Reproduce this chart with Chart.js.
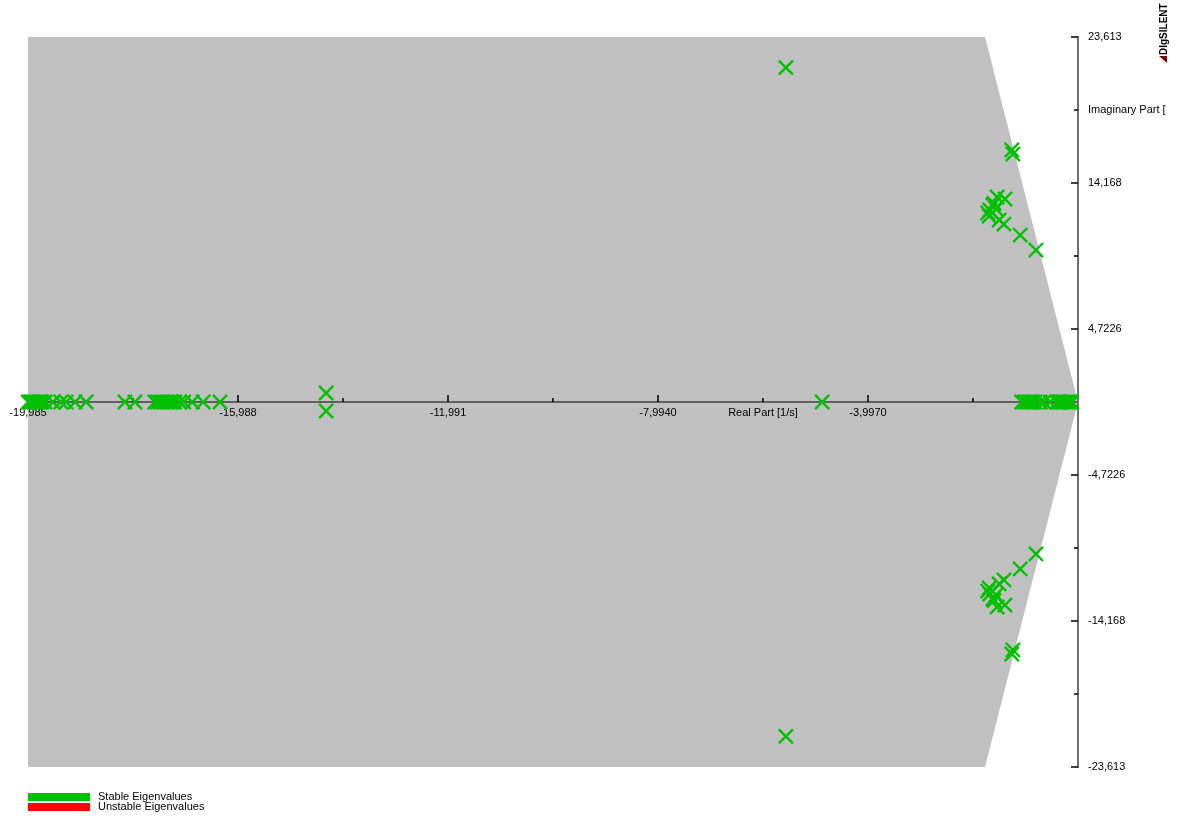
<!DOCTYPE html>
<html>
<head>
<meta charset="utf-8">
<title>Eigenvalue Plot</title>
<script src="https://cdn.jsdelivr.net/npm/chart.js@4.4.1/dist/chart.umd.min.js"></script>
<style>
  html, body { margin: 0; padding: 0; background: #fff; }
  #wrap { width: 1180px; height: 816px; }
</style>
</head>
<body>
<div id="wrap"><canvas id="eigenChart" width="1180" height="816"></canvas></div>
<script>
// Eigenvalues: real part [1/s] and imaginary part
const eigRe = [
  -19.98, -19.94, -19.91, -19.87, -19.83, -19.79, -19.76, -19.72, -19.66, -19.51,
  -19.36, -19.26, -19.09, -18.88, -18.14, -17.95, -17.57, -17.52, -17.47, -17.42,
  -17.38, -17.33, -17.28, -17.23, -17.19, -17.10, -17.02, -16.86, -16.65, -16.33,
  -4.87, -1.07, -1.02, -0.97, -0.93, -0.90, -0.86, -0.82, -0.72, -0.65,
  -0.53, -0.40, -0.37, -0.34, -0.31, -0.27, -0.23, -0.19, -0.15, -0.12,
  -14.31, -5.56, -1.26, -1.24, -1.54, -1.39, -1.62, -1.56, -1.68, -1.72, -1.69, -1.60, -1.50, -1.41, -1.10, -0.80,
  -14.31, -5.56, -1.26, -1.24, -1.54, -1.39, -1.62, -1.56, -1.68, -1.72, -1.69, -1.60, -1.50, -1.41, -1.10, -0.80
];
const eigIm = [
  0, 0, 0, 0, 0, 0, 0, 0, 0, 0,
  0, 0, 0, 0, 0, 0, 0, 0, 0, 0,
  0, 0, 0, 0, 0, 0, 0, 0, 0, 0,
  0, 0, 0, 0, 0, 0, 0, 0, 0, 0,
  0, 0, 0, 0, 0, 0, 0, 0, 0, 0,
  0.58, 21.63, 16.30, 16.04, 13.26, 13.13, 12.74, 12.48, 12.42, 12.23, 12.03, 12.85, 11.77, 11.51, 10.80, 9.83,
  -0.58, -21.63, -16.30, -16.04, -13.26, -13.13, -12.74, -12.48, -12.42, -12.23, -12.03, -12.85, -11.77, -11.51, -10.80, -9.83
];

// grey stability region (upper and lower boundary)
const regionUpperRe = [-19.985, -1.77, 0];
const regionUpperIm = [23.613, 23.613, 0];
const regionLowerRe = [-19.985, -1.77, 0];
const regionLowerIm = [-23.613, -23.613, 0];

// axis ticks
const xMajorTicks = [-19.985, -15.988, -11.991, -7.994, -3.997];
const xMinorTicks = [-17.987, -13.990, -9.993, -5.996, -1.999];
const yMajorTicks = [-23.613, -14.168, -4.7226, 4.7226, 14.168, 23.613];
const yMinorTicks = [-18.890, -9.4452, 9.4452, 18.890];
const xTitle = 'Real Part [1/s]';
const xTitleAt = -5.996;
const yTitle = 'Imaginary Part [';
const yTitleAt = 18.890;

const stableColor = '#00c000';
const unstableColor = '#ff0000';
const regionColor = '#c0c0c0';
const FONT = '"Liberation Sans", Arial, sans-serif';

const toPoints = (xs, ys) => xs.map((v, i) => ({ x: v, y: ys[i] }));
const fmt = v => v.toPrecision(5).replace('.', ',');

// small tick marks: x ticks point up, y ticks point left
const tickMarks = {
    id: 'tickMarks',
    beforeDatasetsDraw(chart) {
        const { ctx, scales: { x, y } } = chart;
        const y0 = y.getPixelForValue(0);
        const x0 = x.getPixelForValue(0);
        ctx.save();
        ctx.strokeStyle = '#000';
        ctx.lineWidth = 1.5;
        ctx.beginPath();
        xMajorTicks.forEach(v => { const p = x.getPixelForValue(v); ctx.moveTo(p, y0); ctx.lineTo(p, y0 - 7); });
        xMinorTicks.forEach(v => { const p = x.getPixelForValue(v); ctx.moveTo(p, y0); ctx.lineTo(p, y0 - 4); });
        yMajorTicks.forEach(v => { const p = y.getPixelForValue(v); ctx.moveTo(x0, p); ctx.lineTo(x0 - 7, p); });
        yMinorTicks.forEach(v => { const p = y.getPixelForValue(v); ctx.moveTo(x0, p); ctx.lineTo(x0 - 4, p); });
        ctx.stroke();
        ctx.restore();
    }
};

// stacked legend at the bottom left and the DIgSILENT mark
const legendAndBrand = {
    id: 'legendAndBrand',
    afterDraw(chart) {
        const ctx = chart.ctx;
        ctx.save();
        chart.data.datasets.slice(0, 2).forEach((ds, i) => {
            const top = 793 + i * 10;
            ctx.fillStyle = ds.borderColor;
            ctx.fillRect(28, top, 62, 8);
            ctx.fillStyle = '#000';
            ctx.font = '11px ' + FONT;
            ctx.textBaseline = 'middle';
            ctx.fillText(ds.label, 98, top + 4);
        });

        ctx.translate(1167, 55);
        ctx.rotate(-Math.PI / 2);
        ctx.fillStyle = '#000';
        ctx.font = 'bold 10px ' + FONT;
        ctx.textBaseline = 'alphabetic';
        ctx.fillText('DIgSILENT', 0, 0);
        ctx.fillStyle = '#800000';
        ctx.beginPath();
        ctx.moveTo(-1, 0);
        ctx.lineTo(-8, 0);
        ctx.lineTo(-1, -8);
        ctx.closePath();
        ctx.fill();
        ctx.restore();
    }
};

new Chart(document.getElementById('eigenChart'), {
    type: 'scatter',
    data: {
        datasets: [{
            label: 'Stable Eigenvalues',
            data: toPoints(eigRe, eigIm),
            pointStyle: 'crossRot',
            pointRadius: 10,
            borderWidth: 2.4,
            borderColor: stableColor,
            backgroundColor: stableColor,
            clip: false
        }, {
            label: 'Unstable Eigenvalues',
            data: [],
            pointStyle: 'crossRot',
            borderColor: unstableColor,
            backgroundColor: unstableColor
        }, {
            label: 'region upper',
            data: toPoints(regionUpperRe, regionUpperIm),
            showLine: true,
            fill: 'origin',
            backgroundColor: regionColor,
            borderWidth: 0,
            pointRadius: 0
        }, {
            label: 'region lower',
            data: toPoints(regionLowerRe, regionLowerIm),
            showLine: true,
            fill: 'origin',
            backgroundColor: regionColor,
            borderWidth: 0,
            pointRadius: 0
        }]
    },
    options: {
        responsive: false,
        animation: false,
        events: [],
        layout: { padding: { left: 28, top: 37, right: 0, bottom: 49 } },
        plugins: {
            legend: { display: false },
            tooltip: { enabled: false },
            filler: { drawTime: 'beforeDraw' }
        },
        scales: {
            x: {
                type: 'linear',
                min: -19.985,
                max: 0,
                position: { y: 0 },
                afterBuildTicks: s => {
                    s.ticks = xMajorTicks.concat(xMinorTicks, [0]).sort((a, b) => a - b).map(v => ({ value: v }));
                },
                afterFit: s => { s.paddingLeft = 0; s.paddingRight = 0; },
                grid: { display: false, drawTicks: false },
                border: { color: '#606060', width: 2 },
                ticks: {
                    autoSkip: false,
                    maxRotation: 0,
                    padding: 4,
                    color: '#000',
                    font: { family: FONT, size: 11 },
                    callback: v => xMajorTicks.includes(v) ? fmt(v) : (v === xTitleAt ? xTitle : '')
                }
            },
            y: {
                type: 'linear',
                min: -23.613,
                max: 23.613,
                position: 'right',
                afterBuildTicks: s => {
                    s.ticks = yMajorTicks.concat(yMinorTicks, [0]).sort((a, b) => a - b).map(v => ({ value: v }));
                },
                afterFit: s => { s.width = 102; s.paddingTop = 0; s.paddingBottom = 0; },
                grid: { display: false, drawTicks: false },
                border: { color: '#707070', width: 2 },
                ticks: {
                    autoSkip: false,
                    padding: 10,
                    color: '#000',
                    font: { family: FONT, size: 11 },
                    callback: v => yMajorTicks.includes(v) ? fmt(v) : (v === yTitleAt ? yTitle : '')
                }
            }
        }
    },
    plugins: [tickMarks, legendAndBrand]
});
</script>
</body>
</html>
